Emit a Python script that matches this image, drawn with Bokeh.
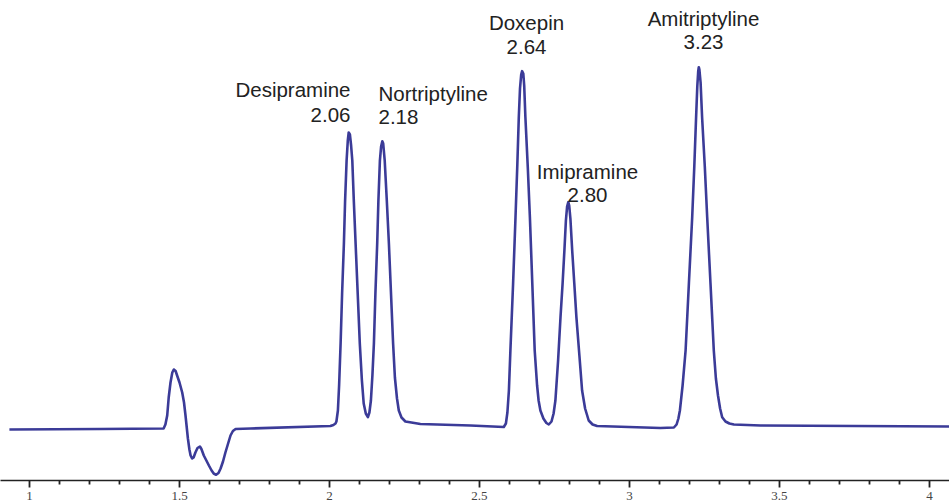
from bokeh.plotting import figure
from bokeh.models import Range1d, FixedTicker, ColumnDataSource
from bokeh.embed import file_html
from bokeh.resources import INLINE
from bokeh.core.properties import value

# ---- data (time in min, detector signal in arbitrary units) ----
time_min = [
    0.933, 1.237, 1.447, 1.453, 1.459, 1.464, 1.470, 1.476, 1.481, 1.487,
    1.492, 1.500, 1.509, 1.515, 1.520, 1.528, 1.533, 1.537, 1.542, 1.547,
    1.553, 1.560, 1.568, 1.573, 1.581, 1.598, 1.607, 1.614, 1.622, 1.630,
    1.637, 1.645, 1.653, 1.662, 1.670, 1.678, 1.687, 1.737,
    2.003, 2.013, 2.020, 2.023, 2.028, 2.032, 2.037, 2.042, 2.048, 2.052,
    2.057, 2.061, 2.064, 2.068, 2.072, 2.076, 2.081, 2.087, 2.094, 2.101,
    2.108, 2.114, 2.121, 2.128, 2.133, 2.138, 2.143, 2.148, 2.153, 2.159,
    2.163, 2.168, 2.172, 2.176, 2.179, 2.184, 2.191, 2.198, 2.205, 2.212,
    2.218, 2.225, 2.231, 2.240, 2.253, 2.303, 2.470, 2.581,
    2.588, 2.593, 2.598, 2.603, 2.612, 2.620, 2.626, 2.631, 2.635, 2.639,
    2.642, 2.646, 2.649, 2.653, 2.661, 2.668, 2.676, 2.684, 2.692, 2.697,
    2.703, 2.713, 2.723, 2.731, 2.740, 2.747, 2.753, 2.762, 2.770, 2.777,
    2.783, 2.788, 2.792, 2.796, 2.799, 2.803, 2.809, 2.816, 2.823, 2.833,
    2.842, 2.852, 2.864, 2.877, 2.892, 3.103, 3.148,
    3.157, 3.163, 3.168, 3.177, 3.187, 3.198, 3.209, 3.216, 3.222, 3.226,
    3.229, 3.231, 3.233, 3.237, 3.242, 3.251, 3.259, 3.270, 3.281, 3.288,
    3.295, 3.302, 3.309, 3.320, 3.333, 3.348, 3.437, 4.067,
]
signal = [
    -1, -0.5, 0, 4, 13, 31, 46, 56, 59, 57.5,
    53, 46, 36, 26, 13, -10, -21, -27, -30, -29,
    -24, -19.5, -18, -20.5, -27, -37, -42, -45, -46.3, -44.5,
    -40, -33, -24, -15, -7, -2.5, -0.5, 0,
    2.5, 3.5, 5, 7, 18, 43, 85, 135, 185, 228,
    268, 288, 296, 294, 283, 268, 228, 185, 135, 85,
    48, 25, 15, 11.3, 16, 28, 53, 85, 135, 185,
    228, 268, 282, 287.3, 285, 268, 228, 185, 135, 85,
    51, 30, 18, 11, 7, 4.5, 3, 1.5,
    5, 16, 38, 78, 145, 211.3, 263, 311.3, 340, 354,
    357.3, 355, 343, 311.3, 261, 211.3, 145, 78, 43, 28,
    18, 10, 5.5, 4, 7, 15, 28, 68, 111.3, 145,
    178, 208, 222, 226.3, 223, 210, 178, 145, 111.3, 73,
    38, 20, 8, 4, 2.5, 0.5, 1,
    4, 10, 18, 43, 78, 145, 211.3, 262, 311.3, 342,
    357, 361.3, 359, 346, 311.3, 262, 211.3, 145, 78, 50,
    33, 20, 11.3, 7, 5, 4, 3, 2,
]

compounds = ["Desipramine", "Nortriptyline", "Doxepin", "Imipramine", "Amitriptyline"]
retention_times = [2.06, 2.18, 2.64, 2.80, 3.23]
rt_labels = ["2.06", "2.18", "2.64", "2.80", "3.23"]
peak_heights = [296, 287, 357, 226, 361]

major_ticks = [1, 1.5, 2, 2.5, 3, 3.5, 4]
minor_ticks = [1.1, 1.2, 1.3, 1.4, 1.6, 1.7, 1.8, 1.9, 2.1, 2.2, 2.3, 2.4,
               2.6, 2.7, 2.8, 2.9, 3.1, 3.2, 3.3, 3.4, 3.6, 3.7, 3.8, 3.9]
tick_labels = ["1", "1.5", "2", "2.5", "3", "3.5", "4"]

# ---- label layout (screen pixels, style only) ----
lbl_align = ["right", "left", "center", "center", "center"]
lbl_dx = [3, -5, 5, 18, 5]
num_dy = [-18, -25, -25, -8, -26]
name_dy = [-43, -48, -49, -31, -49]

p = figure(width=949, height=502, output_backend="svg", toolbar_location=None,
           x_range=Range1d(0.9033, 4.0667), y_range=Range1d(-52, 428),
           y_axis_location=None,
           min_border_left=0, min_border_right=0, min_border_top=0, min_border_bottom=0)
p.xgrid.visible = False
p.ygrid.visible = False
p.outline_line_color = None
p.background_fill_color = "white"

ax = p.xaxis[0]
ax.ticker = FixedTicker(ticks=major_ticks, minor_ticks=minor_ticks)
ax.major_label_overrides = {t: s for t, s in zip(major_ticks, tick_labels)}
ax.axis_line_color = "#222222"
ax.axis_line_width = 1.6
ax.major_tick_line_color = "#222222"
ax.major_tick_line_width = 1.8
ax.major_tick_in = 0
ax.major_tick_out = 7
ax.minor_tick_line_color = "#222222"
ax.minor_tick_line_width = 1.8
ax.minor_tick_in = 0
ax.minor_tick_out = 4
ax.major_label_standoff = 4
ax.major_label_text_font = "Liberation Serif"
ax.major_label_text_font_size = "13px"
ax.major_label_text_color = "#444444"

p.line(time_min, signal, line_color="#3b3b98", line_width=2.6, line_join="round")

src = ColumnDataSource(dict(x=retention_times, y=peak_heights, name=compounds, rt=rt_labels,
                            align=lbl_align, dx=lbl_dx, ndy=num_dy, mdy=name_dy))
p.text(x="x", y="y", text="name", source=src, text_align="align", x_offset="dx", y_offset="mdy",
       text_baseline="alphabetic", text_font=value("Liberation Sans"), text_font_size="20.5px",
       text_color="#222222")
p.text(x="x", y="y", text="rt", source=src, text_align="align", x_offset="dx", y_offset="ndy",
       text_baseline="alphabetic", text_font=value("Liberation Sans"), text_font_size="20.5px",
       text_color="#222222")

open("out.html", "w").write(file_html(p, INLINE))
